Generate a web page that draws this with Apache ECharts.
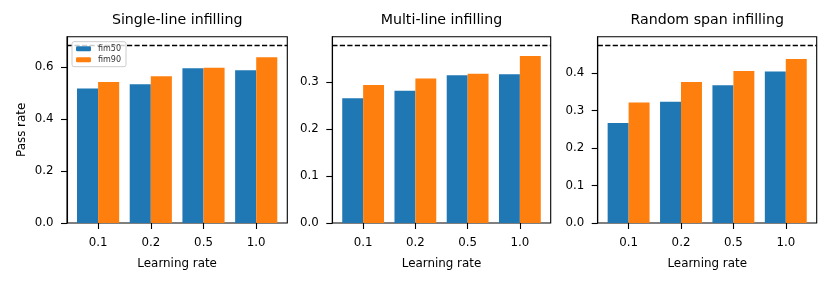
<!DOCTYPE html>
<html><head><meta charset="utf-8">
<script src="https://cdn.jsdelivr.net/npm/echarts@6/dist/echarts.min.js"></script>
<style>html,body{margin:0;padding:0;background:#fff}#c{width:831px;height:284px}</style>
</head><body><div id="c"></div>
<script>
const categories = ['0.1', '0.2', '0.5', '1.0'];
const titles = ['Single-line infilling', 'Multi-line infilling', 'Random span infilling'];
const fim50Single = [0.517, 0.533, 0.595, 0.587];
const fim90Single = [0.542, 0.564, 0.597, 0.637];
const fim50Multi = [0.266, 0.282, 0.315, 0.317];
const fim90Multi = [0.294, 0.308, 0.318, 0.356];
const fim50Random = [0.267, 0.324, 0.368, 0.405];
const fim90Random = [0.322, 0.377, 0.406, 0.438];
const baselines = [0.682, 0.378, 0.474];
const yTicks = [[0, 0.2, 0.4, 0.6], [0, 0.1, 0.2, 0.3], [0, 0.1, 0.2, 0.3, 0.4]];

const fim50 = [fim50Single, fim50Multi, fim50Random];
const fim90 = [fim90Single, fim90Multi, fim90Random];

const FONT = 'DejaVu Sans';
const frames = [{l: 67, w: 220.3}, {l: 332.3, w: 218.4}, {l: 597.7, w: 219}];
const TOP = 36.7, H = 186.3;

const grid = [], xAxis = [], yAxis = [], series = [], graphic = [];
frames.forEach((f, p) => {
  const ymax = baselines[p] * 1.05;
  const unit = f.w / 4.18;
  const inset = 0.59 * unit - 0.5 * unit;
  grid.push({left: f.l, top: TOP, width: f.w, height: H, show: true, borderColor: '#000', borderWidth: 1.1, backgroundColor: 'transparent'});
  grid.push({left: f.l + inset, top: TOP, width: 4 * unit, height: H});
  xAxis.push({type: 'value', gridIndex: 2 * p, min: 0, max: 1, show: false});
  xAxis.push({type: 'category', gridIndex: 2 * p + 1, data: categories,
    axisLine: {show: false},
    axisTick: {show: true, alignWithLabel: true, length: 6, lineStyle: {color: '#000', width: 1.1}},
    axisLabel: {color: '#000', fontFamily: FONT, fontSize: 11.8, margin: 14},
    name: 'Learning rate', nameLocation: 'middle', nameGap: 34.5,
    nameTextStyle: {color: '#000', fontFamily: FONT, fontSize: 11.9}
  });
  yAxis.push({type: 'value', gridIndex: 2 * p, min: 0, max: ymax,
    axisLine: {show: true, lineStyle: {color: '#000', width: 1.1}},
    axisTick: {show: true, length: 6, lineStyle: {color: '#000', width: 1.1}, customValues: yTicks[p]},
    axisLabel: {color: '#000', fontFamily: FONT, fontSize: 11.8, margin: 13.5, customValues: yTicks[p], formatter: v => v.toFixed(1)},
    splitLine: {show: false},
    name: p === 0 ? 'Pass rate' : '', nameLocation: 'middle', nameGap: 39,
    nameTextStyle: {color: '#000', fontFamily: FONT, fontSize: 11.9}
  });
  yAxis.push({type: 'value', gridIndex: 2 * p + 1, min: 0, max: ymax, show: false});
  series.push({name: 'fim50', type: 'bar', xAxisIndex: 2 * p + 1, yAxisIndex: 2 * p + 1, data: fim50[p],
    itemStyle: {color: '#1f77b4'}, barGap: '0%', barCategoryGap: '20%', silent: true});
  series.push({name: 'fim90', type: 'bar', xAxisIndex: 2 * p + 1, yAxisIndex: 2 * p + 1, data: fim90[p],
    itemStyle: {color: '#ff7f0e'}, barGap: '0%', barCategoryGap: '20%', silent: true});
  series.push({name: 'baseline' + p, type: 'line', xAxisIndex: 2 * p, yAxisIndex: 2 * p,
    data: [[0, baselines[p]], [1, baselines[p]]], symbol: 'none', silent: true,
    lineStyle: {color: '#000', width: 1.4, type: [5.2, 2.3]}, z: 3});
  graphic.push({type: 'text', x: f.l + f.w / 2, y: 20, style: {text: titles[p], font: '14.2px "DejaVu Sans"', fill: '#000', textAlign: 'center', textVerticalAlign: 'middle'}});
});

const chart = echarts.init(document.getElementById('c'), null, {renderer: 'canvas'});
chart.setOption({
  animation: false,
  grid, xAxis, yAxis, series, graphic,
  legend: {data: ['fim50', 'fim90'], orient: 'vertical', left: 72, top: 41.7,
    itemWidth: 15, itemHeight: 5, itemGap: 3, padding: [3, 5, 3, 4],
    backgroundColor: 'rgba(255,255,255,0.8)', borderColor: '#ccc', borderWidth: 1, borderRadius: 2,
    textStyle: {fontFamily: FONT, fontSize: 8, color: '#333', padding: [0, 0, 0, 2]},
    selectedMode: false, itemStyle: {borderWidth: 0}
  }
});
</script></body></html>
